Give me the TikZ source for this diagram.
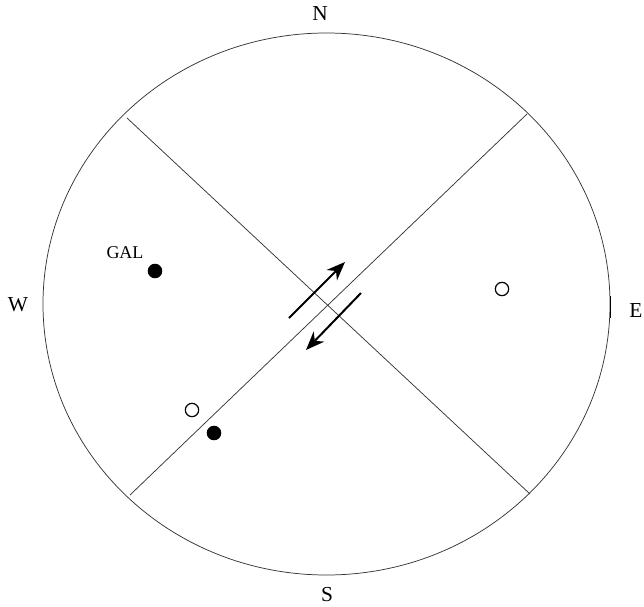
\documentclass[tikz,border=0pt]{standalone}
\usepackage{fontspec}
\setmainfont{Liberation Serif}
\usetikzlibrary{arrows.meta}
\begin{document}
\begin{tikzpicture}[x=0.75pt,y=-0.75pt,
  thin line/.style={line width=0.55pt, black!80},
  slip/.style={line width=1.5pt, -{Stealth[length=14pt,width=11pt,inset=4.5pt]}},
  pole/.style={circle, draw, line width=0.9pt, minimum size=10pt, inner sep=0pt},
  fpole/.style={pole, fill=black},
  dirlabel/.style={font=\fontsize{16}{18}\selectfont, inner sep=0pt},
  gallabel/.style={font=\fontsize{13.5}{15}\selectfont, inner sep=0pt}]
\useasboundingbox (0,0) rectangle (644,607);
\coordinate (c) at (326.5,304);
\draw[thin line] (c) ellipse [x radius=283.5, y radius=271];
% nodal planes
\coordinate (nw) at (127,118);
\coordinate (se) at (530,494);
\coordinate (ne) at (527,114);
\coordinate (sw) at (130,495);
\draw[thin line] (nw) -- (se);
\draw[thin line] (ne) -- (sw);
% E tick
\coordinate (et1) at (610.5,296);
\coordinate (et2) at (610.5,318);
\draw[line width=1.3pt] (et1) -- (et2);
% slip arrows
\coordinate (a1s) at (289,318);
\coordinate (a1e) at (345,262);
\coordinate (a2s) at (361,293);
\coordinate (a2e) at (306,350);
\draw[slip] (a1s) -- (a1e);
\draw[slip] (a2s) -- (a2e);
% poles
\node[fpole] (gal) at (155,271) {};
\node[pole] (o1) at (192,410) {};
\node[fpole] (f2) at (214,433) {};
\node[pole] (o2) at (502,289) {};
\node[gallabel] (gall) at (125,253) {GAL};
% labels
\node[dirlabel] (N) at (320,14) {N};
\node[dirlabel] (S) at (327,595) {S};
\node[dirlabel] (W) at (18,305) {W};
\node[dirlabel] (E) at (636,311) {E};
\end{tikzpicture}
\end{document}
